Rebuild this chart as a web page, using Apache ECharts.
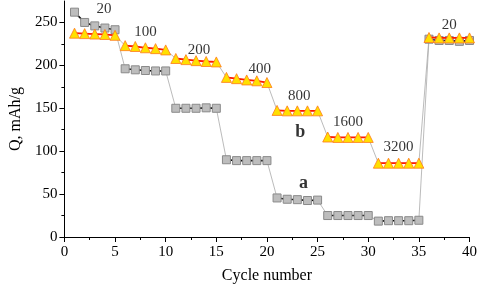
<!DOCTYPE html>
<html>
<head>
<meta charset="utf-8">
<script src="https://cdn.jsdelivr.net/npm/echarts@6/dist/echarts.min.js"></script>
<style>
  html, body { margin: 0; padding: 0; background: #fff; }
  #chart { width: 480px; height: 289px; }
</style>
</head>
<body>
<div id="chart"></div>
<script>
// cycle index 1..40, five cycles per current rate
const cycles = [];
for (let i = 1; i <= 40; i++) cycles.push(i);

// sample a (grey squares)
const capA = [262, 250, 246, 243.5, 241.5, 196, 194.8, 194, 193.5, 193.5,
              150, 150, 150, 150.5, 150, 90, 89, 89, 89, 89,
              45.5, 44, 43.5, 42.5, 43, 25, 25, 25, 25, 25,
              18.5, 19, 19, 19, 19.5, 230.5, 229, 229, 228, 229];

// sample b (yellow triangles)
const capB = [237.5, 237, 236.5, 236, 235, 223, 222, 220.5, 219.5, 218,
              208, 206.7, 205.5, 204.5, 204, 186, 184.5, 183, 182, 180,
              147.5, 147, 147, 147, 147, 116.5, 116, 116, 116, 116,
              86, 86, 86, 86, 86, 232.5, 232, 232, 232, 232];

// current rate labels (mA/g) and where they sit, in data units
const rateLabels = ["20", "100", "200", "400", "800", "1600", "3200", "20"];
const rateX      = [3.9, 8.0, 13.3, 19.3, 23.2, 28.0, 33.0, 38.0];
const rateY      = [266, 239, 218, 196, 164, 133.5, 105, 247];

const sampleLabels = ["a", "b"];
const sampleX      = [23.6, 23.3];
const sampleY      = [62, 122];

const yTicks = [0, 50, 100, 150, 200, 250];

const serif = "Liberation Serif";

function pairs(values, from, to) {
  const out = [];
  for (let i = from; i < to; i++) out.push([cycles[i], values[i]]);
  return out;
}

function linkSeries(values) {
  return {
    type: "line",
    data: pairs(values, 0, values.length),
    symbol: "none",
    lineStyle: { color: "#aaaaaa", width: 0.8 },
    silent: true,
    z: 1,
  };
}

function groupSeries(values, style) {
  const series = [];
  for (let g = 0; g < values.length; g += 5) {
    series.push(Object.assign({
      type: "line",
      data: pairs(values, g, g + 5),
      z: style.z,
    }, style.opts));
  }
  return series;
}

const styleA = {
  z: 2,
  opts: {
    symbol: "rect",
    symbolSize: 8,
    itemStyle: { color: "#bdbdbd", borderColor: "#8a8a8a", borderWidth: 1 },
    lineStyle: { color: "#111", width: 1.6 },
  },
};

const styleB = {
  z: 3,
  opts: {
    symbol: "triangle",
    symbolSize: 10,
    itemStyle: { color: "#ffe000", borderColor: "#ff7a1a", borderWidth: 0.8 },
    lineStyle: { color: "#ff1a00", width: 1.8 },
  },
};

function textSeries(xs, ys, texts, font) {
  return {
    type: "scatter",
    symbolSize: 1,
    itemStyle: { color: "transparent" },
    silent: true,
    z: 5,
    label: {
      show: true,
      position: "inside",
      formatter: (p) => p.name,
      color: "#000",
      fontFamily: serif,
      fontSize: font.size,
      fontWeight: font.weight,
    },
    data: texts.map((t, i) => ({ name: t, value: [xs[i], ys[i]] })),
  };
}

const chart = echarts.init(document.getElementById("chart"));

chart.setOption({
  animation: false,
  grid: { left: 60, right: 9, top: 1, bottom: 51 },
  xAxis: {
    type: "value",
    min: 0,
    max: 40,
    interval: 5,
    name: "Cycle number",
    nameLocation: "middle",
    nameGap: 31,
    nameTextStyle: { fontFamily: serif, fontSize: 16, color: "#000" },
    axisLine: { lineStyle: { color: "#000", width: 1 } },
    axisTick: { length: 5, lineStyle: { color: "#000" } },
    minorTick: { show: true, splitNumber: 2, length: 3, lineStyle: { color: "#000" } },
    axisLabel: { fontFamily: serif, fontSize: 15, color: "#000", margin: 8 },
    splitLine: { show: false },
  },
  yAxis: {
    type: "value",
    min: 0,
    max: 275,
    interval: 50,
    name: "Q, mAh/g",
    nameLocation: "middle",
    nameGap: 40,
    nameTextStyle: { fontFamily: serif, fontSize: 16, color: "#000" },
    axisLine: { show: true, lineStyle: { color: "#000", width: 1 } },
    axisTick: { show: true, length: 5, customValues: yTicks, lineStyle: { color: "#000" } },
    minorTick: { show: true, splitNumber: 2, length: 3, lineStyle: { color: "#000" } },
    axisLabel: { fontFamily: serif, fontSize: 15, color: "#000", margin: 7, customValues: yTicks },
    splitLine: { show: false },
  },
  series: [
    linkSeries(capA),
    linkSeries(capB),
    ...groupSeries(capA, styleA),
    ...groupSeries(capB, styleB),
    textSeries(rateX, rateY, rateLabels, { size: 15, weight: "normal" }),
    textSeries(sampleX, sampleY, sampleLabels, { size: 18, weight: "bold" }),
  ],
});
</script>
</body>
</html>
